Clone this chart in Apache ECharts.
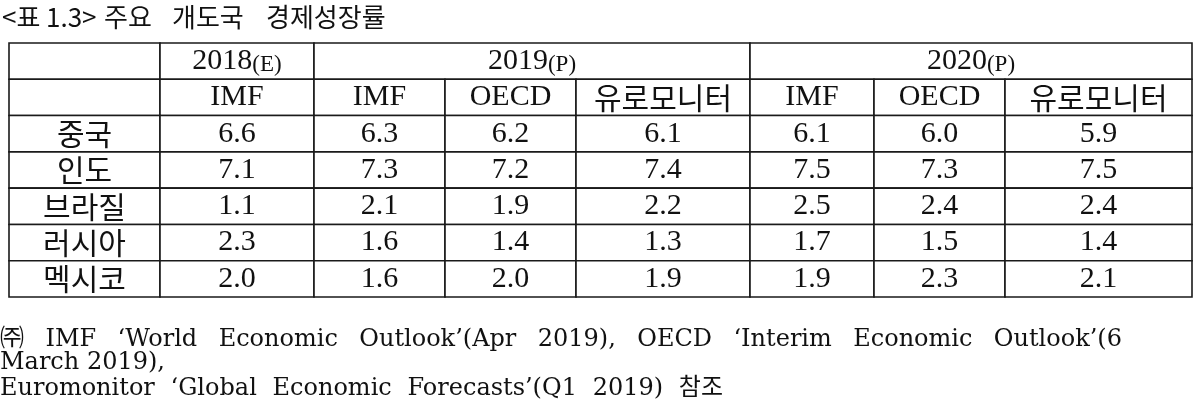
<!DOCTYPE html>
<html>
<head>
<meta charset="utf-8">
<script src="https://cdn.jsdelivr.net/npm/echarts@6/dist/echarts.min.js"></script>
<style>
  html, body { margin: 0; padding: 0; background: #fff; }
  #chart { width: 1200px; height: 402px; }
</style>
</head>
<body>
<div id="chart"></div>
<script>
// data
const countries = ['중국', '인도', '브라질', '러시아', '멕시코']
const years = ['2018', '2019', '2020']
const yearTags = ['(E)', '(P)', '(P)']
const sources = ['IMF', 'IMF', 'OECD', '유로모니터', 'IMF', 'OECD', '유로모니터']
const china = [6.6, 6.3, 6.2, 6.1, 6.1, 6.0, 5.9]
const india = [7.1, 7.3, 7.2, 7.4, 7.5, 7.3, 7.5]
const brazil = [1.1, 2.1, 1.9, 2.2, 2.5, 2.4, 2.4]
const russia = [2.3, 1.6, 1.4, 1.3, 1.7, 1.5, 1.4]
const mexico = [2.0, 1.6, 2.0, 1.9, 1.9, 2.3, 2.1]
const values = [china, india, brazil, russia, mexico]

const titleWords = ['<표', '1.3>', '주요', '개도국', '경제성장률']
const noteLine1 = ['㈜', 'IMF', '‘World', 'Economic', 'Outlook’(Apr', '2019),', 'OECD', '‘Interim', 'Economic', 'Outlook’(6']
const noteLine2 = 'March 2019),'
const noteLine3 = ['Euromonitor', '‘Global', 'Economic', 'Forecasts’(Q1', '2019)', '참조']

// layout (column edges in px from table left, year column spans, title word starts)
const colEdges = [0, 151, 305, 436, 567, 741, 865, 996, 1183]
const yearSpans = [[1, 2], [2, 5], [5, 8]]
const titleX = [2, 46, 104, 172, 266]

const SERIF = '"Liberation Serif", "Noto Sans CJK KR", serif'
const KR = '"Noto Sans CJK KR", sans-serif'
const NOTE = '"DejaVu Serif", "Noto Sans CJK KR", serif'

// build cells: [x0, x1, row0, row1], text kept alongside
const cells = []
const push = (c0, c1, r0, r1, text, kind) => cells.push({ box: [colEdges[c0], colEdges[c1], r0, r1], text, kind })

push(0, 1, 0, 1, '', 'num')
push(0, 1, 1, 2, '', 'num')
years.forEach((y, i) => push(yearSpans[i][0], yearSpans[i][1], 0, 1, y + '{s|' + yearTags[i] + '}', 'year'))
sources.forEach((s, i) => push(i + 1, i + 2, 1, 2, s, /[가-힣]/.test(s) ? 'kr' : 'num'))
countries.forEach((c, r) => {
  push(0, 1, r + 2, r + 3, c, 'kr')
  values[r].forEach((v, i) => push(i + 1, i + 2, r + 2, r + 3, v.toFixed(1), 'num'))
})

function textStyle(cell) {
  if (cell.kind === 'kr') return { text: cell.text, fontFamily: KR, fontSize: 30, fill: '#111' }
  if (cell.kind === 'year') {
    return {
      text: cell.text, fontFamily: SERIF, fontSize: 30, fill: '#111',
      rich: { s: { fontFamily: SERIF, fontSize: 23, fill: '#111', verticalAlign: 'bottom' } }
    }
  }
  return { text: cell.text, fontFamily: SERIF, fontSize: 30, fill: '#111' }
}

function renderCell(params, api) {
  const cell = cells[params.dataIndex]
  const p0 = api.coord([api.value(0), api.value(2)])
  const p1 = api.coord([api.value(1), api.value(3)])
  return {
    type: 'rect',
    shape: { x: p0[0], y: p0[1], width: p1[0] - p0[0], height: p1[1] - p0[1] },
    style: { fill: '#fff', stroke: '#1a1a1a', lineWidth: 1.6 },
    textContent: { type: 'text', style: textStyle(cell) },
    textConfig: { position: 'inside' }
  }
}

// spread footnote words across a line width
const ctx = document.createElement('canvas').getContext('2d')
ctx.font = '24px ' + NOTE
function spreadWords(words, y, lineW) {
  const ws = words.map(w => ctx.measureText(w).width)
  const gap = (lineW - ws.reduce((a, b) => a + b, 0)) / (words.length - 1)
  let x = 0
  return words.map((w, i) => {
    const el = { type: 'text', x: x, y: y, style: { text: w, font: '24px ' + NOTE, fill: '#111', verticalAlign: 'middle' } }
    x += ws[i] + gap
    return el
  })
}

const titleEls = titleWords.map((w, i) => ({
  type: 'text', x: titleX[i], y: 17,
  style: { text: w, font: '26px ' + KR, fill: '#111', verticalAlign: 'middle' }
}))

const chart = echarts.init(document.getElementById('chart'))
chart.setOption({
  animation: false,
  grid: { left: 9, top: 43, width: 1183, height: 254 },
  xAxis: { type: 'value', min: 0, max: 1183, show: false },
  yAxis: { type: 'value', min: 0, max: 7, inverse: true, show: false },
  graphic: [
    ...titleEls,
    ...spreadWords(noteLine1, 340, 1122),
    { type: 'text', x: 0, y: 363, style: { text: noteLine2, font: '24px ' + NOTE, fill: '#111', verticalAlign: 'middle' } },
    ...spreadWords(noteLine3, 389, 723)
  ],
  series: [{
    type: 'custom',
    renderItem: renderCell,
    encode: { x: [0, 1], y: [2, 3] },
    data: cells.map(c => c.box),
    silent: true
  }]
})
</script>
</body>
</html>
